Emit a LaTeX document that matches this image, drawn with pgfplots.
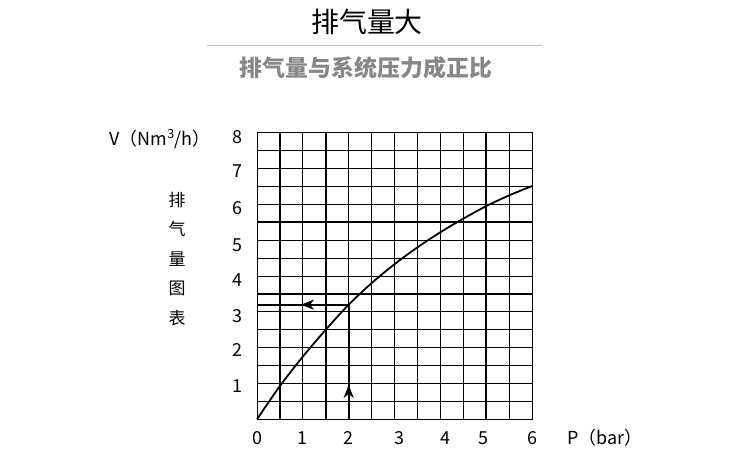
\documentclass[border=0pt]{standalone}
\usepackage{pgfplots}
\pgfplotsset{compat=1.18}
\usepackage{fontspec}
\setmainfont{Noto Sans CJK SC}
\usetikzlibrary{arrows.meta,decorations.markings}
\definecolor{subgrey}{RGB}{135,135,135}
\definecolor{rulegrey}{RGB}{195,195,195}

\begin{document}
\begin{tikzpicture}
\begin{axis}[
    name=ax,
    at={(257bp,-419.3bp)}, anchor=south west,
    scale only axis,
    width=275bp, height=286.6bp,
    xmin=0, xmax=6, ymin=0, ymax=8,
    clip=false,
    axis line style={black, line width=0.9bp},
    xtick={0,1,2,3.1,4.12,4.94,6},
    xticklabels={0,1,2,3,4,5,6},
    ytick={0.93,1.93,2.88,3.89,4.87,5.9,6.93,7.88},
    yticklabels={1,2,3,4,5,6,7,8},
    major tick length=0, minor tick length=0,
    minor xtick={0.5,1,...,5.5},
    minor ytick={0.5,1,...,7.5},
    grid=minor,
    minor grid style={black, line width=0.9bp},
    extra x ticks={0.5,1.5,3,3.5,5},
    extra x tick labels={},
    extra y ticks={1.5,3.5,5.5,7},
    extra y tick labels={},
    extra tick style={grid=major, major grid style={black, line width=1.8bp}},
    tick label style={font=\fontsize{18}{18}\selectfont},
    xticklabel style={anchor=center, yshift=-18.7bp},
    yticklabel style={anchor=center, xshift=-20bp},
]

% exhaust curve
\addplot[smooth, black, line width=1.8bp] coordinates {
    (0,0) (0.5,0.93) (1,1.75) (1.5,2.5) (2,3.2) (2.5,3.8) (3,4.33)
    (3.5,4.8) (4,5.22) (4.5,5.6) (5,5.95) (5.5,6.25) (6,6.51)
};

% reading example at 2 bar
\addplot[black, line width=1.7bp, postaction={decorate},
    decoration={markings, mark=at position 0.3 with {\arrow{Stealth[length=13bp,width=10bp,inset=4bp]}}}]
    coordinates {(2,0) (2,3.2)};
\addplot[black, line width=1.7bp, postaction={decorate},
    decoration={markings, mark=at position 0.52 with {\arrow{Stealth[length=13bp,width=10bp,inset=4bp]}}}]
    coordinates {(2,3.2) (0,3.2)};
\end{axis}

\node[font=\fontsize{28}{28}\selectfont] at (367bp,-22bp) {排气量大};
\draw[rulegrey, line width=1bp] (207bp,-45bp) -- (542bp,-45bp);
\node[font=\bfseries\fontsize{23}{23}\selectfont, text=subgrey] at (366bp,-68bp) {排气量与系统压力成正比};

\node[font=\fontsize{18}{18}\selectfont] at (160bp,-139bp) {V（Nm\textsuperscript{3}/h）};
\node[font=\fontsize{18}{18}\selectfont] at (605bp,-438bp) {P（bar）};
\node[font=\fontsize{17}{17}\selectfont] at (177bp,-200bp) {排};
\node[font=\fontsize{17}{17}\selectfont] at (177bp,-229.5bp) {气};
\node[font=\fontsize{17}{17}\selectfont] at (177bp,-259bp) {量};
\node[font=\fontsize{17}{17}\selectfont] at (177bp,-288.5bp) {图};
\node[font=\fontsize{17}{17}\selectfont] at (177bp,-318bp) {表};

\pgfresetboundingbox
\path (0bp,0bp) rectangle (735bp,-462bp);
\end{tikzpicture}
\end{document}
